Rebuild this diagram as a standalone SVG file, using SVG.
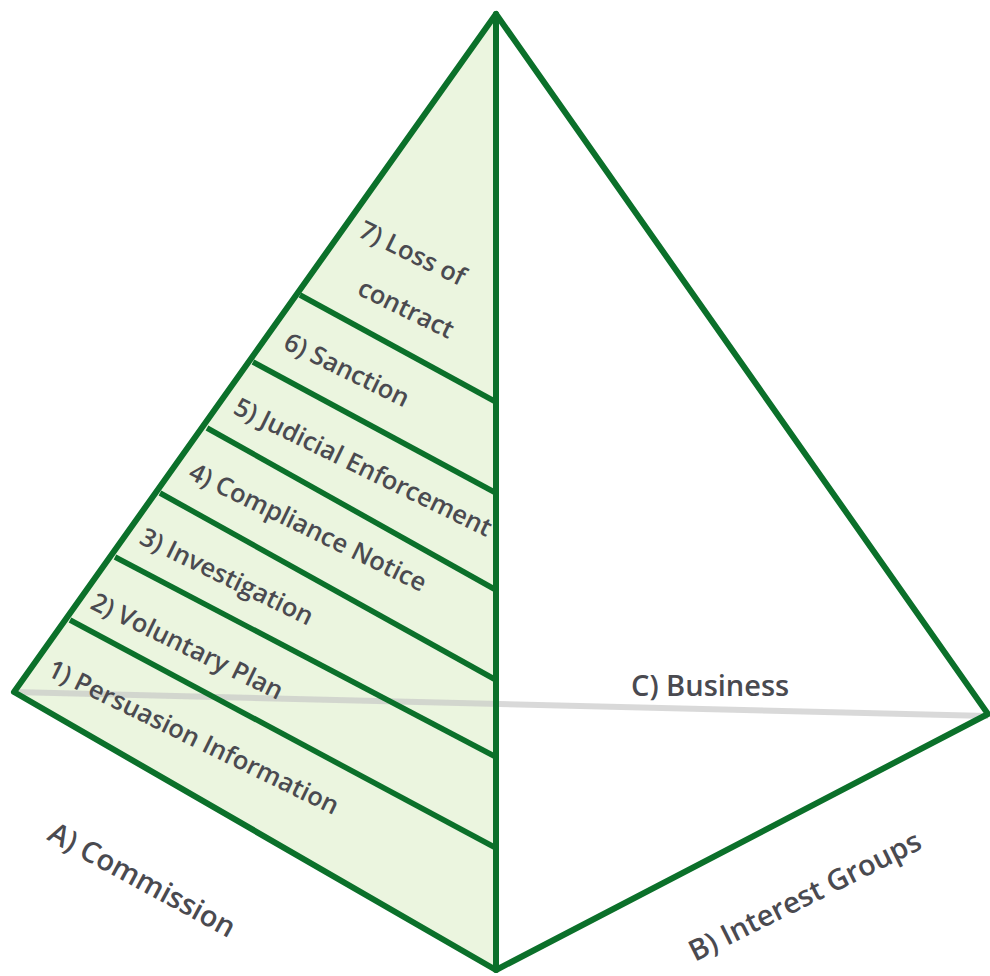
<svg xmlns="http://www.w3.org/2000/svg" width="990" height="976" viewBox="0 0 990 976">
<style>
.face{fill:#ebf5df;stroke:none}
.edge{fill:none;stroke:#0b702a;stroke-width:6;stroke-linejoin:round;stroke-linecap:round}
.band{fill:none;stroke:#0b702a;stroke-width:5.5}
.hidden{fill:none;stroke:#c4c4c4;stroke-opacity:0.65;stroke-width:6}
.lbl{font-family:"Open Sans","Noto Sans","DejaVu Sans",sans-serif;font-size:25.5px;font-weight:600;fill:#4a4a50}
.big{font-size:29px}
</style>
<rect width="990" height="976" fill="#ffffff"/>
<g id="left-face">
<polygon class="face" points="496,14 14,692 496,970"/>
</g>
<g id="connectors">
<line class="hidden" x1="14" y1="692" x2="988" y2="716"/>
<line class="band" x1="300" y1="295" x2="496" y2="402"/>
<line class="band" x1="253" y1="362" x2="496" y2="493"/>
<line class="band" x1="207" y1="428" x2="496" y2="590"/>
<line class="band" x1="160" y1="493" x2="496" y2="680"/>
<line class="band" x1="115" y1="557" x2="496" y2="757"/>
<line class="band" x1="70" y1="620" x2="496" y2="848"/>
<polygon class="edge" points="496,14 14,692 496,970 988,714"/>
<line class="edge" x1="496" y1="14" x2="496" y2="970"/>
</g>
<g id="level7"><text class="lbl" transform="translate(357,236) rotate(26)">7) Loss of</text><text class="lbl" transform="translate(356,294) rotate(26)">contract</text></g>
<g id="level6"><text class="lbl" transform="translate(282,348) rotate(26)">6) Sanction</text></g>
<g id="level5"><text class="lbl" transform="translate(232,413) rotate(26)">5) Judicial Enforcement</text></g>
<g id="level4"><text class="lbl" transform="translate(187,478) rotate(26)">4) Compliance Notice</text></g>
<g id="level3"><text class="lbl" transform="translate(138,543) rotate(26)">3) Investigation</text></g>
<g id="level2"><text class="lbl" transform="translate(89,608) rotate(26)">2) Voluntary Plan</text></g>
<g id="level1"><text class="lbl" transform="translate(46,675) rotate(26)">1) Persuasion Information</text></g>
<g id="labelA"><text class="lbl big" transform="translate(46,839) rotate(28.5)">A) Commission</text></g>
<g id="labelB"><text class="lbl big" transform="translate(695,962) rotate(-26.5)">B) Interest Groups</text></g>
<g id="labelC"><text class="lbl big" x="631" y="696">C) Business</text></g>
</svg>
